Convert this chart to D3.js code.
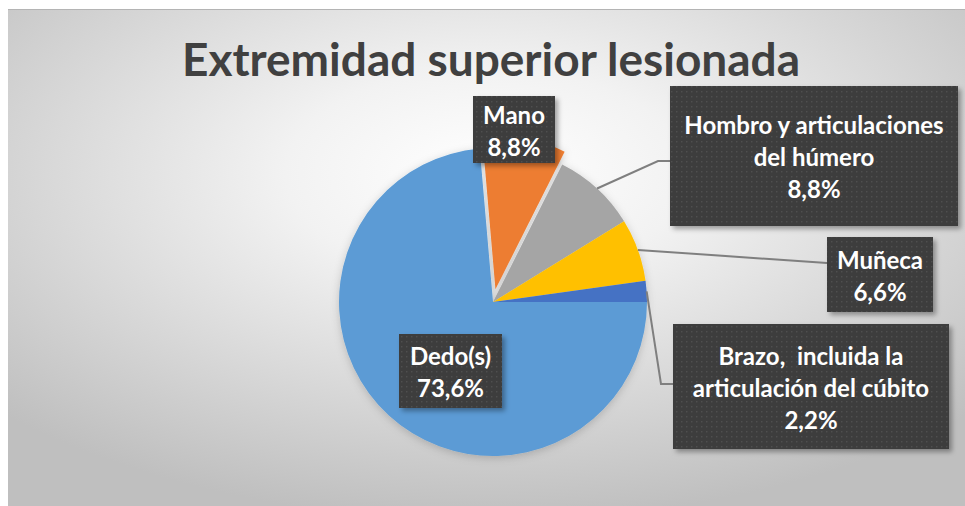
<!DOCTYPE html>
<meta charset="utf-8">
<script src="https://d3js.org/d3.v7.min.js"></script>
<body style="margin:0;background:#fff;">
<div id="chart"></div>
</body>
<script>
// data
var categories = ["Dedo(s)", "Mano", "Hombro y articulaciones del húmero", "Muñeca", "Brazo,  incluida la articulación del cúbito"];
var counts = [67, 8, 8, 6, 2];
var percentLabels = ["73,6%", "8,8%", "8,8%", "6,6%", "2,2%"];
var labelLines = [["Dedo(s)"], ["Mano"], ["Hombro y articulaciones", "del húmero"], ["Muñeca"], ["Brazo,  incluida la", "articulación del cúbito"]];
var colors = ["#5B9BD5", "#ED7D31", "#A5A5A5", "#FFC000", "#4472C4"];

var width = 965, height = 506;
var cx = 493, cy = 302, radius = 154;

// label box layout
var boxes = [
  {x: 399, y: 334, w: 103, h: 74},
  {x: 473, y: 96, w: 82, h: 67},
  {x: 670, y: 86, w: 288, h: 140},
  {x: 827, y: 237, w: 106, h: 75},
  {x: 673, y: 324, w: 276, h: 125}
];
// leader elbows (null = no leader)
var leaders = [null, null, [[658, 161], [670, 161]], [[827, 263]], [[661, 384], [673, 384]]];

var svg = d3.select("#chart").append("svg")
  .attr("width", width)
  .attr("height", height);

var defs = svg.append("defs");

var bg = defs.append("radialGradient")
  .attr("id", "bg")
  .attr("cx", "50%").attr("cy", "33%").attr("r", "70%");
bg.append("stop").attr("offset", "0%").attr("stop-color", "#ffffff");
bg.append("stop").attr("offset", "30%").attr("stop-color", "#f2f2f2");
bg.append("stop").attr("offset", "100%").attr("stop-color", "#bfbfbf");

var dots = defs.append("pattern")
  .attr("id", "dots")
  .attr("width", 5).attr("height", 5)
  .attr("patternUnits", "userSpaceOnUse");
dots.append("rect").attr("width", 5).attr("height", 5).attr("fill", "#3d3d3d");
dots.append("rect").attr("x", 1).attr("y", 1).attr("width", 1.4).attr("height", 1.4).attr("fill", "#505050");

var shadow = defs.append("filter").attr("id", "shadow")
  .attr("x", "-10%").attr("y", "-10%").attr("width", "130%").attr("height", "130%");
shadow.append("feDropShadow")
  .attr("dx", 3).attr("dy", 3).attr("stdDeviation", 2.5)
  .attr("flood-color", "#000").attr("flood-opacity", 0.35);

var pieShadow = defs.append("filter").attr("id", "pieShadow")
  .attr("x", "-10%").attr("y", "-10%").attr("width", "130%").attr("height", "130%");
pieShadow.append("feDropShadow")
  .attr("dx", 0).attr("dy", 2).attr("stdDeviation", 4)
  .attr("flood-color", "#000").attr("flood-opacity", 0.18);

// background
svg.append("rect")
  .attr("x", 8).attr("y", 9)
  .attr("width", width - 8).attr("height", height - 9)
  .attr("fill", "url(#bg)");
svg.append("line")
  .attr("x1", 8).attr("x2", width).attr("y1", 9.5).attr("y2", 9.5)
  .attr("stroke", "#b4b4b4").attr("stroke-width", 1);

// title
svg.append("text")
  .attr("x", 491).attr("y", 76)
  .attr("text-anchor", "middle")
  .attr("font-family", "Lato, sans-serif")
  .attr("font-weight", 700)
  .attr("font-size", 46)
  .attr("fill", "#404040")
  .text("Extremidad superior lesionada");

// pie
var pie = d3.pie()
  .sort(null)
  .startAngle(Math.PI / 2)
  .endAngle(Math.PI / 2 + 2 * Math.PI);

var arcs = pie(counts);
var arc = d3.arc().innerRadius(0).outerRadius(radius);
var explode = [0, 13, 0, 0, 0];

var g = svg.append("g")
  .attr("transform", "translate(" + cx + "," + cy + ")")
  .attr("filter", "url(#pieShadow)");

g.selectAll("path")
  .data(arcs)
  .enter().append("path")
  .attr("d", arc)
  .attr("fill", function(d, i) { return colors[i]; })
  .attr("transform", function(d, i) {
    var a = (d.startAngle + d.endAngle) / 2;
    return "translate(" + (Math.sin(a) * explode[i]) + "," + (-Math.cos(a) * explode[i]) + ")";
  });

// leader lines
arcs.forEach(function(d, i) {
  if (!leaders[i]) return;
  var a = (d.startAngle + d.endAngle) / 2;
  var pts = [[cx + Math.sin(a) * radius, cy - Math.cos(a) * radius]].concat(leaders[i]);
  svg.append("path")
    .attr("d", d3.line()(pts))
    .attr("fill", "none")
    .attr("stroke", "#7f7f7f")
    .attr("stroke-width", 2);
});

// label boxes
var lineH = 32;
boxes.forEach(function(b, i) {
  var lb = svg.append("g");
  lb.append("rect")
    .attr("x", b.x).attr("y", b.y)
    .attr("width", b.w).attr("height", b.h)
    .attr("fill", "url(#dots)")
    .attr("filter", "url(#shadow)");
  var lines = labelLines[i].concat([percentLabels[i]]);
  var mid = b.y + b.h / 2 + 2;
  var top = mid - (lines.length - 1) * lineH / 2;
  lines.forEach(function(t, j) {
    lb.append("text")
      .attr("x", b.x + b.w / 2)
      .attr("y", top + j * lineH)
      .attr("dy", "0.35em")
      .attr("text-anchor", "middle")
      .attr("font-family", "Lato, sans-serif")
      .attr("font-weight", 700)
      .attr("font-size", 24)
      .attr("fill", "#ffffff")
      .style("white-space", "pre")
      .text(t);
  });
});
</script>
